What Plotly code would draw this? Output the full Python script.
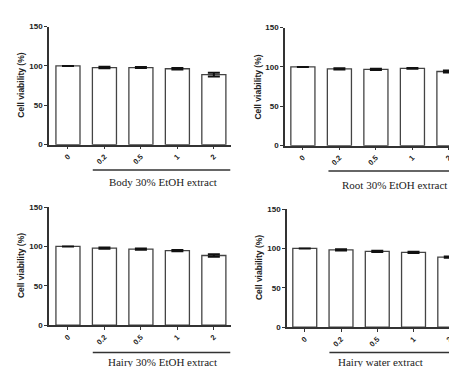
import plotly.graph_objects as go

W, H = 457, 367

doses = ["0", "0.2", "0.5", "1", "2"]
titles = ["Body 30% EtOH extract", "Root 30% EtOH extract",
          "Hairy 30% EtOH extract", "Hairy water extract"]
ylabel = "Cell viability (%)"
body_vals = [100, 98, 98, 96.5, 89]
body_err = [0, 1.0, 0.7, 1.0, 2.5]
root_vals = [100, 97.5, 97, 98.2, 94.2]
root_err = [0, 0.7, 0.8, 0.6, 1.2]
hairy_etoh_vals = [100, 97.8, 96.5, 94.8, 88.5]
hairy_etoh_err = [0, 0.8, 0.8, 0.8, 1.5]
hairy_water_vals = [100, 98, 96.2, 95, 89]
hairy_water_err = [0, 0.8, 0.8, 0.8, 0.8]

series = [(body_vals, body_err), (root_vals, root_err),
          (hairy_etoh_vals, hairy_etoh_err), (hairy_water_vals, hairy_water_err)]

# panel geometry in pixels: (x_left, x_right, y_zero, y_top, x_range)
panels = [
    (41, 223, 136, 15, [-0.52, 4.47]),
    (277, 457, 137, 16, [-0.49, 4.44]),
    (41, 223, 321, 200, [-0.52, 4.47]),
    (279, 457, 323, 202, [-0.49, 4.42]),
]
underline = [(0.68, 4.45, 162, 174), (0.7, 4.44, 163, 177),
             (0.68, 4.45, 349, 359), (0.68, 4.42, 349, 359)]
cap_x = [2.6, 2.5, 2.6, 2.1]
ytitle_x = [13, 250, 13, 251]

sans = "Arial, Liberation Sans, sans-serif"
serif = "Times New Roman, Liberation Serif, serif"

fig = go.Figure()
layout = dict(width=W, height=H, margin=dict(l=0, r=0, t=0, b=0),
              paper_bgcolor="white", plot_bgcolor="white", showlegend=False)
shapes, annots = [], []
for i, ((vals, errs), (xl, xr, y0, y1, xrng)) in enumerate(zip(series, panels)):
    n = "" if i == 0 else str(i + 1)
    fig.add_trace(go.Bar(
        x=list(range(len(doses))), y=vals,
        error_y=dict(type="data", array=errs, color="#111", thickness=2, width=6),
        marker=dict(color="white", line=dict(color="#444", width=1.3)),
        xaxis="x" + n, yaxis="y" + n, width=0.66, cliponaxis=False))
    layout["xaxis" + n] = dict(
        domain=[xl / W, xr / W], range=xrng, anchor="y" + n,
        tickmode="array", tickvals=list(range(len(doses))), ticktext=doses,
        tickangle=-45, ticks="outside", ticklen=3, tickwidth=1.3, tickcolor="#333",
        showline=True, linecolor="#333", linewidth=1.6, showgrid=False, zeroline=False,
        tickfont=dict(family=sans, size=7.5, color="#222", weight="bold"), fixedrange=True)
    layout["yaxis" + n] = dict(
        domain=[1 - y0 / H, 1 - y1 / H], range=[0, 150], anchor="x" + n,
        tickvals=[0, 50, 100, 150], ticks="outside", ticklen=3, tickwidth=1.3,
        tickcolor="#333", showline=True, linecolor="#333", linewidth=1.6,
        showgrid=False, zeroline=False,
        tickfont=dict(family=sans, size=8, color="#222", weight="bold"),
        fixedrange=True)
    ux0, ux1, uy, cy = underline[i]
    shapes.append(dict(type="line", xref="x" + n, yref="paper",
                       x0=ux0, x1=ux1, y0=1 - uy / H, y1=1 - uy / H,
                       line=dict(color="#333", width=1.5)))
    annots.append(dict(text=titles[i], xref="x" + n, yref="paper",
                       x=cap_x[i], y=1 - cy / H, showarrow=False,
                       xanchor="center", yanchor="middle",
                       font=dict(family=serif, size=11, color="#222")))
    annots.append(dict(text=ylabel, xref="paper", yref="paper",
                       x=ytitle_x[i] / W, y=1 - (y0 + y1) / 2 / H,
                       textangle=-90, showarrow=False,
                       xanchor="center", yanchor="middle",
                       font=dict(family=sans, size=8.5, color="#222", weight="bold")))
layout["shapes"] = shapes
layout["annotations"] = annots
fig.update_layout(**layout)
fig.write_html("out.html")
